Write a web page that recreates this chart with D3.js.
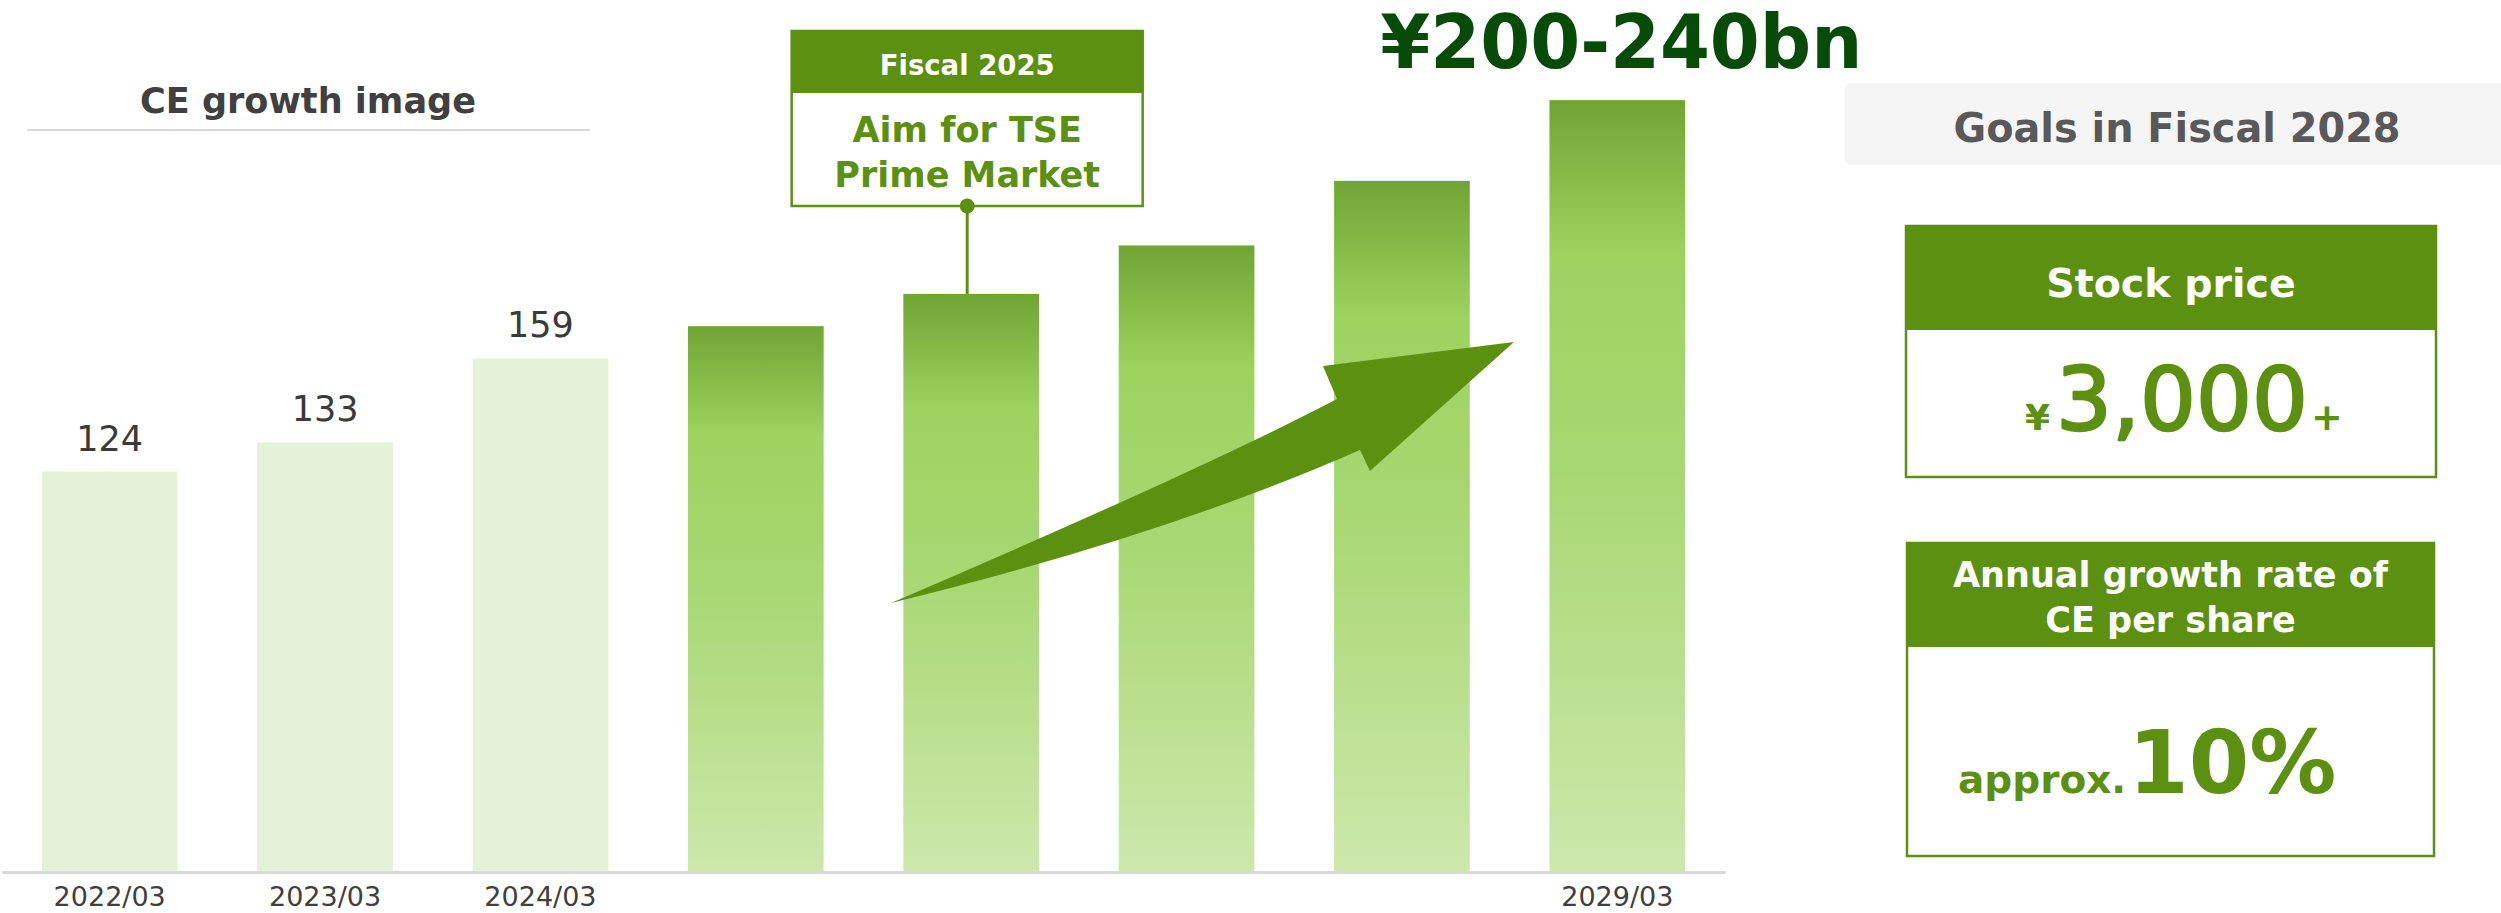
<!DOCTYPE html>
<html>
<head>
<meta charset="utf-8">
<script src="https://cdn.jsdelivr.net/npm/d3@7"></script>
<style>
  html, body { margin: 0; padding: 0; background: #ffffff; }
  svg { display: block; font-family: "DejaVu Sans", Verdana, sans-serif; }
</style>
</head>
<body>
<svg id="chart" width="2501" height="913"></svg>
<script>
// ---- data ----
const categories = ["2022/03", "2023/03", "2024/03", "2025/03", "2026/03", "2027/03", "2028/03", "2029/03"];
const tickLabels = ["2022/03", "2023/03", "2024/03", "", "", "", "", "2029/03"];
const ceValues = [124, 133, 159, 169, 179, 194, 214, 239];
const valueLabels = ["124", "133", "159", "", "", "", "", ""];
const isActual = [true, true, true, false, false, false, false, false];

const chartTitle = "CE growth image";
const targetLabel = "¥200-240bn";
const milestoneIndex = 4;
const milestoneHeader = "Fiscal 2025";
const milestoneLines = ["Aim for TSE", "Prime Market"];
const goalsTitle = "Goals in Fiscal 2028";
const stockHeader = ["Stock price"];
const growthHeader = ["Annual growth rate of", "CE per share"];

// ---- styles ----
const GREEN = "#5c9011";
const DARK_GREEN = "#064b07";
const ACTUAL_FILL = "#e4f2d7";
const TEXT = "#404040";

const svg = d3.select("#chart");
const defs = svg.append("defs");
const grad = defs.append("linearGradient")
  .attr("id", "planGrad").attr("x1", 0).attr("y1", 0).attr("x2", 0).attr("y2", 1);
[[0, "#6fa532"], [0.2, "#9dd35f"], [0.5, "#a9d874"], [1, "#cce8ab"]].forEach(([o, c]) =>
  grad.append("stop").attr("offset", o).attr("stop-color", c));

// ---- scales ----
const x = d3.scaleBand().domain(categories).range([2, 1725]).paddingInner(0.37).paddingOuter(0.185);
const y = d3.scaleLinear().domain([0, 270]).range([872, 0]);

// ---- title ----
svg.append("text").attr("x", 308).attr("y", 113).attr("text-anchor", "middle")
  .attr("font-size", 36).attr("font-weight", "bold").attr("fill", TEXT)
  .attr("textLength", 336).attr("lengthAdjust", "spacingAndGlyphs").text(chartTitle);
svg.append("line").attr("x1", 27).attr("x2", 590).attr("y1", 130).attr("y2", 130)
  .attr("stroke", "#d9d9d9").attr("stroke-width", 2);

// ---- bars ----
svg.append("g").selectAll("rect").data(ceValues).join("rect")
  .attr("x", (d, i) => x(categories[i]))
  .attr("width", x.bandwidth())
  .attr("y", d => y(d))
  .attr("height", d => y(0) - y(d) - 1)
  .attr("fill", (d, i) => isActual[i] ? ACTUAL_FILL : "url(#planGrad)");

// value labels
svg.append("g").selectAll("text").data(ceValues).join("text")
  .attr("x", (d, i) => x(categories[i]) + x.bandwidth() / 2)
  .attr("y", d => y(d) - 21)
  .attr("text-anchor", "middle").attr("font-size", 35).attr("fill", "#3a3a3a")
  .text((d, i) => valueLabels[i]);

// ---- axis ----
const axis = svg.append("g").attr("transform", `translate(0,${y(0)})`)
  .call(d3.axisBottom(x).tickSize(0).tickFormat((d, i) => tickLabels[i]));
axis.select(".domain").attr("stroke", "#d9d9d9").attr("stroke-width", 3);
axis.selectAll("text").attr("y", 34).attr("dy", 0)
  .attr("font-size", 27).attr("fill", TEXT).attr("font-family", "DejaVu Sans, sans-serif");

// ---- target label above last bar ----
const lastCat = categories[categories.length - 1];
svg.append("text").attr("x", x(lastCat) + x.bandwidth() / 2 + 4).attr("y", 68)
  .attr("text-anchor", "middle").attr("font-size", 74).attr("font-weight", "bold")
  .attr("fill", DARK_GREEN).attr("textLength", 482).attr("lengthAdjust", "spacingAndGlyphs")
  .text(targetLabel);

// ---- growth arrow (annotation shape) ----
const arrow = d3.path();
arrow.moveTo(891, 603);
arrow.quadraticCurveTo(1201, 470, 1337, 399);
arrow.lineTo(1323, 366);
arrow.lineTo(1514, 342);
arrow.lineTo(1370, 471);
arrow.lineTo(1360, 450);
arrow.quadraticCurveTo(1162, 537, 891, 603);
arrow.closePath();
svg.append("path").attr("d", arrow.toString()).attr("fill", GREEN);

// ---- milestone callout ----
const mx = x(categories[milestoneIndex]) + x.bandwidth() / 2 - 4;
const boxW = 351, boxTop = 31, headH = 62, boxBottom = 206;
const callout = svg.append("g");
callout.append("line").attr("x1", mx).attr("x2", mx).attr("y1", boxBottom)
  .attr("y2", y(ceValues[milestoneIndex])).attr("stroke", GREEN).attr("stroke-width", 3);
callout.append("rect").attr("x", mx - boxW / 2).attr("y", boxTop).attr("width", boxW)
  .attr("height", boxBottom - boxTop).attr("fill", "#fff").attr("stroke", GREEN).attr("stroke-width", 2.5);
callout.append("rect").attr("x", mx - boxW / 2).attr("y", boxTop).attr("width", boxW)
  .attr("height", headH).attr("fill", GREEN);
callout.append("text").attr("x", mx).attr("y", 75).attr("text-anchor", "middle")
  .attr("font-size", 27.5).attr("font-weight", "bold").attr("fill", "#fff").text(milestoneHeader);
callout.selectAll("text.body").data(milestoneLines).join("text").attr("class", "body")
  .attr("x", mx).attr("y", (d, i) => 142 + i * 45).attr("text-anchor", "middle")
  .attr("font-size", 35).attr("font-weight", "bold").attr("fill", GREEN).text(d => d);
callout.append("circle").attr("cx", mx).attr("cy", boxBottom).attr("r", 7.5).attr("fill", GREEN);

// ---- right panel ----
svg.append("rect").attr("x", 1845).attr("y", 83).attr("width", 700).attr("height", 82)
  .attr("rx", 6).attr("fill", "#f5f5f5");
svg.append("text").attr("x", 2177).attr("y", 142).attr("text-anchor", "middle")
  .attr("font-size", 40).attr("font-weight", "bold").attr("fill", "#595959")
  .attr("textLength", 447).attr("lengthAdjust", "spacingAndGlyphs").text(goalsTitle);

function goalBox(x0, y0, w, headBottom, bottom, headerLines, baseline0) {
  const g = svg.append("g");
  g.append("rect").attr("x", x0).attr("y", y0).attr("width", w).attr("height", bottom - y0)
    .attr("fill", "#fff").attr("stroke", GREEN).attr("stroke-width", 2.5);
  g.append("rect").attr("x", x0).attr("y", y0).attr("width", w).attr("height", headBottom - y0)
    .attr("fill", GREEN);
  g.selectAll("text.h").data(headerLines).join("text").attr("class", "h")
    .attr("x", x0 + w / 2).attr("y", (d, i) => baseline0 + i * 45).attr("text-anchor", "middle")
    .attr("font-size", headerLines.length > 1 ? 35 : 39.5).attr("font-weight", "bold")
    .attr("fill", "#fff").text(d => d);
  return g;
}
const stock = goalBox(1906, 226, 530, 330, 477, stockHeader, 297);
const stockText = stock.append("text").attr("x", 2025).attr("y", 430).attr("fill", GREEN);
stockText.append("tspan").attr("font-size", 36).attr("font-weight", "bold").text("¥");
stockText.append("tspan").attr("font-size", 88).attr("dx", 6)
  .attr("stroke", GREEN).attr("stroke-width", 2.5).attr("stroke-linejoin", "round").text("3,000");
stockText.append("tspan").attr("font-size", 38).attr("font-weight", "bold").attr("dx", 3).text("+");

const growth = goalBox(1907, 543, 527, 647, 856, growthHeader, 587);
const growthText = growth.append("text").attr("x", 1958).attr("y", 793).attr("fill", GREEN)
  .attr("font-weight", "bold");
growthText.append("tspan").attr("font-size", 39).text("approx.");
growthText.append("tspan").attr("font-size", 87).attr("dx", 2).text("10%");
</script>
</body>
</html>
